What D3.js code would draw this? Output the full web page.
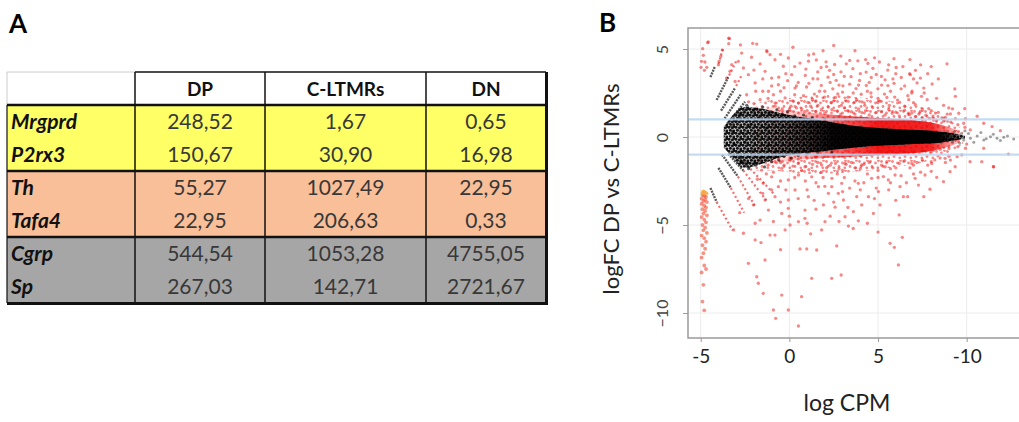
<!DOCTYPE html>
<html>
<head>
<meta charset="utf-8">
<script src="https://cdn.jsdelivr.net/npm/d3@7/dist/d3.min.js"></script>
<style>
body{margin:0;background:#fff;}
svg{display:block;}
</style>
</head>
<body>
<div id="canvas"></div>
<script>
// ---- panel A : table values ----
var columns = ['DP','C-LTMRs','DN'];
var genes = ['Mrgprd','P2rx3','Th','Tafa4','Cgrp','Sp'];
var valDP = ['248,52','150,67','55,27','22,95','544,54','267,03'];
var valCL = ['1,67','30,90','1027,49','206,63','1053,28','142,71'];
var valDN = ['0,65','16,98','22,95','0,33','4755,05','2721,67'];
var groupColors = ['#ffff66','#f8bf98','#a6a6a6'];

// ---- panel B : MA plot values (logCPM, logFC) ----
var xTicks = [-5,0,5,10];
var xTickLabels = ['-5','0','5','-10'];
var yTicks = [5,0,-5,-10];
var cutoffs = [1,-1];

// dense black core, envelope
var coreX   = [-3.7,-3.3,-2.6,-1.5,-0.5,0.5,1.5,2.5,3.5,4.5,5.5,6.5,7.5,8.5,9.2,9.9];
var coreTop = [0.6,1.1,1.7,1.6,1.35,1.15,1.0,0.82,0.66,0.55,0.48,0.42,0.38,0.3,0.22,0.08];
var coreBot = [-0.6,-1.05,-1.75,-1.5,-1.15,-0.95,-0.85,-0.72,-0.62,-0.52,-0.47,-0.42,-0.38,-0.32,-0.22,-0.08];
var coreShadeAt = [-3.7,-0.5,2.5,8.3,9.3,9.9];
var coreShade = [0.15,0.45,0.95,1,0.7,0.1];

// dense red fringe round the core (inner, nearly solid)
var bandX   = [-1.2,0,1,2,3,4,5,6,7,8,8.8,9.6];
var bandTop = [1.7,1.5,1.4,1.3,1.22,1.15,1.08,1.02,0.95,0.82,0.62,0.32];
var bandBot = [-1.6,-1.35,-1.25,-1.2,-1.15,-1.1,-1.02,-0.98,-0.92,-0.8,-0.6,-0.32];
var bandShadeAt = [-1.2,1,3,5,8,9.6];
var bandShade = [0.1,0.3,0.65,0.9,0.85,0.2];

// wider, speckled part of the red cloud
var cloudX   = [-2.0,-1,0,1,2,3,4,5,6,7,8,9,9.8];
var cloudTop = [1.9,2.1,2.2,2.35,2.4,2.35,2.25,2.15,2.0,1.8,1.5,1.0,0.4];
var cloudBot = [-1.9,-1.9,-2.0,-2.1,-2.1,-2.05,-1.95,-1.85,-1.7,-1.55,-1.3,-0.9,-0.4];

// low count streaks [x0,y0,x1,y1]
var blackStreaks = [
  [-4.45,3.4,-4.2,4.0],[-4.1,2.1,-3.45,3.4],[-3.85,1.5,-3.05,2.8],[-3.65,1.05,-2.75,2.4],
  [-3.5,0.75,-2.5,2.0],[-3.3,0.55,-2.3,1.75],
  [-4.45,-2.9,-4.1,-3.7],[-4.0,-1.75,-3.3,-2.9],[-3.8,-1.0,-2.9,-2.25],[-3.45,-0.95,-2.6,-1.9],
  [-3.0,-0.95,-2.2,-1.8]
];
var redStreaks = [
  [-4.0,4.15,-3.75,5.0],[-3.4,3.5,-3.0,4.3],[-3.0,2.9,-2.7,3.5],
  [-4.1,-3.7,-3.2,-5.3],[-3.3,-2.9,-2.55,-4.3],[-2.9,-2.25,-1.95,-3.9],[-2.6,-1.9,-1.3,-3.6],
  [-2.2,-1.8,-0.9,-3.2]
];

var redPts = [
  [-4.57,5.4],[-4.89,5.02],[-4.85,4.64],[-4.95,4.3],[-4.76,4.26],[-4.98,3.96],[-4.66,3.96],[-4.79,3.79],[-4.61,5.36],
  [-3.38,5.59],[-3.42,5.3],[-3.78,4.94],[-3.87,4.58],[-3.96,4.3],[-4.0,4.1],[-2.69,4.77],[-1.84,5.28],[-1.28,4.9],
  [-1.09,4.68],[-2.13,4.53],[-2.88,4.3],[-3.25,4.11],[-2.59,3.92],[-1.65,4.15],[-0.81,4.39],[-0.06,4.49],[-0.34,4.02],
  [-3.35,3.73],[-3.54,3.35],[-3.06,3.16],[-2.31,3.54],[-1.37,3.73],[-1.0,3.35],[-1.93,3.07],[-0.62,2.97],[0.13,3.54],
  [0.32,2.78],[-1.18,2.6],[-2.41,2.4],[-0.24,2.22],[0.51,1.93],[-0.81,1.93],[-1.65,2.12],[-2.76,5.23],[-2.07,5.32],
  [-1.26,4.85],[1.09,4.66],[-3.42,5.61],
  [1.37,4.72],[1.08,4.31],[1.52,4.38],[2.07,4.27],[2.55,4.12],[3.21,4.16],[3.86,4.33],[4.43,4.18],[5.08,4.26],
  [0.93,3.86],[1.79,3.95],[2.27,3.79],[2.91,3.7],[3.58,3.88],[4.33,3.69],[4.71,3.9],[5.55,3.8],[6.02,3.95],[6.78,3.6],
  [1.33,3.31],[2.18,3.4],[2.64,3.22],[3.48,3.43],[3.96,3.21],[4.62,3.38],[5.19,3.44],[5.84,3.3],[6.31,3.38],
  [0.97,2.84],[1.8,2.93],[2.45,2.74],[3.02,2.91],[3.76,2.75],[4.34,2.93],[4.99,2.74],[5.56,2.92],[6.3,2.74],
  [1.41,2.44],[1.98,2.27],[2.73,2.45],[3.31,2.26],[4.05,2.43],[4.62,2.28],[5.36,2.44],[5.94,2.27],[6.68,2.35],
  [1.04,1.97],[1.61,1.8],[2.35,1.96],[2.93,1.8],[3.67,1.97],[4.25,1.8],[4.99,1.96],[5.64,1.8],[6.22,1.97],
  [8.89,4.16],[7.11,3.79],[6.82,3.54],[7.39,3.35],[8.05,3.01],[9.33,2.73],[9.36,2.31],[7.2,3.07],[7.58,2.78],
  [6.92,2.6],[7.45,2.31],[7.77,2.12],[6.73,2.12],[7.11,1.84],[7.86,1.61],[8.99,1.65],[9.89,1.61],[7.39,1.46],
  [8.24,1.36],[9.08,1.31],[6.77,1.27],[8.8,1.12],[9.36,1.04],[9.93,1.04],[10.59,1.18],[8.14,1.04],[9.55,1.35],
  [9.83,0.78],[10.96,0.78],[11.43,0.59],[11.9,0.36],
  [0.7,1.6],[1.2,1.75],[1.8,1.55],[2.2,1.7],[2.7,1.48],[3.1,1.66],[3.5,1.44],[3.9,1.6],[4.3,1.5],[4.7,1.67],
  [5.2,1.43],[5.6,1.56],[6.0,1.41],[6.5,1.52],[6.9,1.36],[7.3,1.3],[7.7,1.24],[8.1,1.19],[8.6,1.08],[1.3,2.15],
  [2.5,2.05],[3.8,2.12],[5.0,2.2],[5.7,2.6],[6.9,2.5],[3.0,2.55],[4.4,2.6],[1.7,2.6],[0.3,2.4],[-0.5,2.6],
  [-1.2,2.2],[-2.0,1.9],[0.1,1.75],[-0.4,1.6],[2.9,4.6],[3.7,4.9],[4.3,4.4],[5.6,4.1],[6.4,4.0],[0.5,3.1],
  [-0.2,3.6],[0.6,4.2],
  [0.2,2.05],[0.8,2.35],[1.5,2.05],[2.0,2.6],[2.6,2.25],[3.2,2.05],[3.6,2.5],[4.1,2.0],[4.6,2.5],[5.1,2.05],
  [5.5,2.25],[6.1,2.1],[6.5,1.75],[7.0,1.95],[7.5,1.6],[8.0,1.5],[8.4,1.4],[8.9,1.3],[0.4,2.9],[1.1,3.05],
  [1.6,3.3],[2.3,3.1],[2.8,2.95],[3.4,3.0],[3.9,2.95],[4.5,3.1],[5.2,2.95],[5.9,3.05],[6.5,2.9],[7.6,2.5],
  [8.3,2.2],[8.7,1.8],[9.2,1.6],[-0.9,2.4],[-1.5,2.6],[-0.3,2.8],[-1.9,2.6],[-2.3,2.0],[-1.0,2.9],[-0.1,3.2],
  [0.9,3.5],[1.6,3.7],[2.5,3.55],[3.1,3.45],[4.0,3.6],[4.9,3.55],[5.4,3.25],[6.0,3.6],[7.0,3.3],[7.8,3.6],
  [8.4,3.3],[2.1,4.0],[3.4,4.35],[4.8,4.5],[5.9,4.45],[0.3,4.0],[-0.6,3.4],[-1.5,3.3],[-2.0,3.8],[-0.5,4.7],
  [1.9,4.9],[2.5,5.2],[0.2,5.1],[7.4,4.1],[6.8,4.4],[8.0,4.0],
  [-0.8,1.75],[0.0,1.55],[0.4,1.65],[1.0,1.5],[1.5,1.45],[2.0,1.35],[2.4,1.55],[2.9,1.3],[3.3,1.5],[3.7,1.3],
  [4.1,1.38],[4.5,1.25],[4.9,1.4],[5.4,1.25],[5.8,1.35],[6.2,1.2],[6.7,1.3],[7.1,1.15],[7.5,1.1],[7.9,1.05],
  [8.3,0.95],[8.7,0.9],[9.1,0.85],[9.5,0.7],[9.9,0.55],[10.2,0.4],
  [-1.93,-5.85],[-1.37,-6.99],[-1.84,-7.94],[-1.75,-8.31],[-1.47,-8.88],[-0.9,-9.83],[-0.77,-10.3],[-0.43,-8.98],
  [-0.06,-9.83],[0.51,-10.74],[0.69,-9.07],[1.26,-8.03],[0.6,-6.36],[0.98,-6.36],[1.54,-6.42],[-0.24,-5.28],
  [-1.09,-5.57],[-0.81,-5.57],[0.04,-5.0],[0.51,-4.81],[0.88,-4.62],[1.82,-5.28],[2.01,-4.81],[-0.43,-4.34],
  [-1.18,-4.15],[-1.65,-4.72],[-2.03,-3.86],[-1.37,-3.58],[-0.81,-3.39],[-0.06,-3.58],[0.32,-3.01],[1.07,-3.39],
  [1.64,-2.82],[1.92,-3.86],[0.88,-4.15],[-0.06,-4.05],[-0.62,-2.82],[-1.47,-2.63],[-1.0,-2.26],[-0.06,-2.44],
  [0.51,-2.16],[1.26,-2.26],[-1.56,-1.88],[-0.43,-1.78],[0.88,-1.69],[1.82,-1.59],[1.45,-1.12],[0.13,-1.21],[-0.81,-1.4],
  [2.67,-6.19],[2.39,-8.03],[2.92,-7.84],[5.68,-6.04],[5.92,-6.27],[6.37,-5.7],[6.15,-7.27],[3.33,-5.06],[3.89,-4.76],
  [3.14,-4.53],[4.74,-4.34],[6.19,-4.43],[2.58,-3.99],[3.61,-4.24],[5.11,-3.86],[4.08,-3.86],[3.05,-3.58],[3.8,-3.39],
  [4.46,-3.39],[6.43,-3.39],[6.67,-3.39],[5.02,-3.1],[2.76,-3.2],[6.24,-2.82],[7.28,-2.73],[7.93,-2.97],[8.31,-2.29],
  [9.35,-1.69],[9.06,-1.97],[11.5,-1.69],[10.85,-1.4],[10.19,-1.4],[8.69,-2.54],[7.65,-2.16],[7.09,-2.35],[5.58,-2.44],
  [5.96,-2.16],[4.64,-2.35],[3.89,-2.63],[2.95,-2.63],[2.39,-2.82],[8.03,-1.5],[6.9,-1.5],[5.4,-1.69],[4.08,-1.59],
  [3.14,-1.5],[8.78,-1.21],[9.72,-1.02],[12.35,-0.97],[11.52,-1.69],[10.96,-0.64],[9.93,-0.64],[9.46,-1.12],[9.08,-1.31],
  [7.58,-3.39],
  [0.5,-1.5],[1.1,-1.85],[1.6,-1.45],[2.1,-1.75],[2.6,-1.5],[3.0,-1.9],[3.5,-1.45],[4.0,-1.8],[4.5,-1.45],[5.0,-1.9],
  [5.5,-1.4],[6.0,-1.75],[6.5,-1.35],[7.0,-1.6],[7.5,-1.3],[8.0,-1.4],[8.5,-1.2],[9.0,-1.1],[0.9,-2.5],[1.9,-2.3],
  [2.7,-2.1],[3.4,-2.9],[4.2,-2.6],[4.9,-2.9],[5.3,-2.25],[6.6,-2.6],[7.0,-2.1],[-0.9,-2.0],[-1.8,-2.4],[-0.2,-3.0],
  [2.2,-3.2],[4.4,-4.9],[5.0,-5.4],[3.6,-5.2],[-2.59,-5.47],[-2.31,-7.18],[-1.93,-4.9],[-3.14,-5.28],[-2.8,-4.3],
  [-2.3,-3.5],[-1.0,-3.0],[1.5,-4.1],[2.3,-4.5],[1.2,-5.5],[-0.5,-6.4],[-1.6,-6.0],
  [0.2,-1.65],[0.7,-1.9],[1.3,-1.55],[1.8,-2.0],[2.3,-1.6],[2.8,-1.8],[3.2,-1.55],[3.7,-1.75],[4.2,-1.55],[4.7,-1.75],
  [5.2,-1.6],[5.7,-1.8],[6.2,-1.5],[6.8,-1.75],[7.2,-1.45],[7.8,-1.6],[8.2,-1.3],[8.8,-1.45],[0.3,-2.3],[1.5,-2.6],
  [2.4,-2.35],[3.1,-2.3],[3.7,-2.5],[4.4,-2.1],[5.0,-2.3],[5.7,-2.6],[6.3,-2.2],[7.4,-2.0],[8.0,-1.95],[-0.5,-2.5],
  [-1.3,-2.1],[-0.3,-1.6],[-1.2,-1.6],[1.0,-3.0],[2.0,-2.8],[3.0,-3.1],[4.0,-3.0],[4.8,-3.5],[5.6,-3.0],[6.0,-3.6],
  [2.5,-3.7],[1.4,-3.6],[0.5,-3.5],[-0.5,-3.7],[-1.5,-3.2],[3.3,-4.0],[0.0,-4.5],[1.0,-4.9],[2.8,-4.8],[-0.9,-4.8],
  [-0.5,-1.45],[0.0,-1.3],[0.5,-1.25],[1.0,-1.2],[1.5,-1.15],[2.0,-1.1],[2.5,-1.05],[3.0,-1.1],[3.5,-1.0],[4.0,-1.05],
  [4.5,-0.95],[5.0,-1.0],[5.5,-0.9],[6.0,-0.95],[6.5,-0.85],[7.0,-0.9],[7.5,-0.8],[8.0,-0.85],[8.5,-0.7],[9.0,-0.65],
  [9.5,-0.55],[10.0,-0.4]
];

// genes with no counts in one group, column at the left edge
var lowPts = [
  [-4.9,-3.3],[-4.8,-3.35],[-4.7,-3.4],[-4.95,-3.5],[-4.75,-3.55],[-4.85,-3.65],[-4.65,-3.7],[-4.95,-3.8],
  [-4.8,-3.9],[-4.7,-4.0],[-4.9,-4.1],[-4.75,-4.2],[-4.85,-4.35],[-4.65,-4.45],[-4.95,-4.55],[-4.8,-4.7],
  [-4.7,-4.85],[-4.9,-5.0],[-4.75,-5.15],[-4.85,-5.3],[-4.65,-5.45],[-4.95,-5.6],[-4.8,-5.75],[-4.7,-5.95],
  [-4.9,-6.15],[-4.75,-6.35],[-4.85,-6.6],[-4.95,-6.85],[-4.8,-7.3],[-4.7,-7.5],[-4.95,-7.7],[-4.85,-8.4],
  [-4.9,-9.35],[-4.8,-9.85]
];
var lowTopPts = [[-4.9,-3.2],[-4.78,-3.15],[-4.85,-3.1],[-4.68,-3.2]];

var blackPts = [
  [-3.2,0.3],[-3.1,-0.4],[-3.0,0.9],[-2.9,-0.9],[-2.8,1.3],[-2.7,-1.4],[-2.6,0.2],[-2.5,-0.3],[-2.4,1.8],
  [-2.3,-1.8],[-2.2,0.7],[-2.1,-0.8],[-2.0,1.5],[-1.9,-1.6],[-1.8,0.1],[-1.7,1.1],[-1.6,-1.2],[-1.5,1.7],
  [-1.4,-1.7],[-1.3,0.5],[-1.2,-0.5],[-1.1,1.4],[-1.0,-1.4],[-0.9,0.9],[-0.8,-0.9],[-0.7,1.55],[-0.6,-1.3],
  [-0.4,1.3],[-0.3,-1.1],[-0.1,1.45],[0.1,-1.2],[0.3,1.2],[0.5,-1.05],[0.8,1.25],[1.0,-0.95],[1.3,1.1],
  [1.6,-0.9],[2.0,1.0],[2.4,-0.85]
];
var tailPts = [
  [9.08,0.02],[9.46,0.11],[9.83,-0.17],[10.21,-0.07],[10.59,0.06],[10.96,-0.17],[11.34,0.02],[11.71,-0.07],
  [12.09,-0.02],[12.65,-0.11],[9.3,0.3],[9.6,-0.35],[9.9,0.35],[10.1,0.2],[10.4,-0.3],[10.8,0.25],[11.1,-0.1],
  [11.5,0.15],[11.9,-0.2],[12.3,0.05],[9.2,-0.25],[9.7,0.2]
];

var W = 1019, H = 422;
var svg = d3.select('#canvas').append('svg')
    .attr('width', W).attr('height', H)
    .style('font-family', 'Lato, "Open Sans", sans-serif');
var defs = svg.append('defs');

// panel letters
svg.append('text').attr('x', 9).attr('y', 33).text('A')
    .style('font-size', '26px').style('font-weight', 'bold');
svg.append('text').attr('x', 599).attr('y', 32).text('B')
    .style('font-size', '26px').style('font-weight', 'bold');

// ================= TABLE =================
var colEdges = [7,135,265,426,546];
var headTop = 72, headBot = 105, rowH = 33;
var rowVals = [valDP, valCL, valDN];

var tbl = svg.append('g');

groupColors.forEach(function(c, g){
  tbl.append('rect')
    .attr('x', colEdges[0]).attr('y', headBot + g*2*rowH)
    .attr('width', colEdges[4]-colEdges[0]).attr('height', 2*rowH)
    .attr('fill', c);
});

columns.forEach(function(c, i){
  tbl.append('text')
    .attr('x', (colEdges[i+1]+colEdges[i+2])/2).attr('y', headBot - 9)
    .attr('text-anchor', 'middle').text(c)
    .style('font-size', '19px').style('font-weight', 'bold').attr('fill', '#111');
});

genes.forEach(function(g, r){
  var yb = headBot + r*rowH + rowH/2 + 7.5;
  tbl.append('text').attr('x', 11).attr('y', yb).text(g)
    .style('font-size', '21px').style('font-weight', 'bold').style('font-style', 'italic')
    .attr('fill', '#111');
  rowVals.forEach(function(vals, i){
    tbl.append('text')
      .attr('x', (colEdges[i+1]+colEdges[i+2])/2).attr('y', yb)
      .attr('text-anchor', 'middle').text(vals[r])
      .style('font-size', '21px').attr('fill', '#383838');
  });
});

var tBot = headBot + genes.length*rowH;
tbl.append('line').attr('x1', colEdges[0]).attr('x2', colEdges[1]).attr('y1', headTop).attr('y2', headTop)
  .attr('stroke', '#ccc').attr('stroke-width', 1);
tbl.append('line').attr('x1', colEdges[1]).attr('x2', colEdges[4]).attr('y1', headTop).attr('y2', headTop)
  .attr('stroke', '#111').attr('stroke-width', 1.5);
tbl.append('line').attr('x1', colEdges[0]).attr('x2', colEdges[0]).attr('y1', headTop).attr('y2', headBot)
  .attr('stroke', '#ccc').attr('stroke-width', 1);
tbl.append('line').attr('x1', colEdges[0]).attr('x2', colEdges[0]).attr('y1', headBot).attr('y2', tBot)
  .attr('stroke', '#111').attr('stroke-width', 1.2);
[1,2,3].forEach(function(i){
  tbl.append('line').attr('x1', colEdges[i]).attr('x2', colEdges[i]).attr('y1', headTop).attr('y2', tBot)
    .attr('stroke', '#111').attr('stroke-width', 1.5);
});
[0,1,2].forEach(function(g){
  var yy = headBot + g*2*rowH;
  tbl.append('line').attr('x1', colEdges[0]).attr('x2', colEdges[4]).attr('y1', yy).attr('y2', yy)
    .attr('stroke', '#111').attr('stroke-width', 2.5);
});
tbl.append('line').attr('x1', colEdges[4]+0.5).attr('x2', colEdges[4]+0.5).attr('y1', headTop).attr('y2', tBot+1.5)
  .attr('stroke', '#111').attr('stroke-width', 3);
tbl.append('line').attr('x1', colEdges[0]).attr('x2', colEdges[4]+2).attr('y1', tBot+0.5).attr('y2', tBot+0.5)
  .attr('stroke', '#111').attr('stroke-width', 3);

// ================= MA PLOT =================
var pL = 688, pT = 28, pB = 338, pR = W + 5;
var x = d3.scaleLinear().domain([-5,10]).range([700.7,966.7]);
var y = d3.scaleLinear().domain([5,-10]).range([49,313]);

defs.append('clipPath').attr('id', 'panel')
  .append('rect').attr('x', pL).attr('y', pT).attr('width', pR-pL).attr('height', pB-pT);

// speckle textures for the overplotted areas
var rs = defs.append('pattern').attr('id', 'redSpeckle').attr('patternUnits', 'userSpaceOnUse')
  .attr('width', 11).attr('height', 10);
[[1.5,1.5],[6.5,3],[3,6.5],[8.8,7.8],[9.5,0.5]].forEach(function(p){
  rs.append('circle').attr('cx', p[0]).attr('cy', p[1]).attr('r', 1.4)
    .attr('fill', '#ee1111').attr('fill-opacity', 0.5);
});
var ks = defs.append('pattern').attr('id', 'blackSpeckle').attr('patternUnits', 'userSpaceOnUse')
  .attr('width', 7).attr('height', 6);
[[1,1.2],[4.4,1.8],[2.4,4.2],[5.8,4.9],[6.5,0.6]].forEach(function(p){
  ks.append('circle').attr('cx', p[0]).attr('cy', p[1]).attr('r', 1.5)
    .attr('fill', '#000').attr('fill-opacity', 0.9);
});

function gradient(id, at, op, color){
  var g = defs.append('linearGradient').attr('id', id)
    .attr('gradientUnits', 'userSpaceOnUse')
    .attr('x1', x(at[0])).attr('x2', x(at[at.length-1])).attr('y1', 0).attr('y2', 0);
  at.forEach(function(v, i){
    g.append('stop')
      .attr('offset', (x(v)-x(at[0]))/(x(at[at.length-1])-x(at[0])))
      .attr('stop-color', color).attr('stop-opacity', op[i]);
  });
}
gradient('coreGrad', coreShadeAt, coreShade, '#000');
gradient('bandGrad', bandShadeAt, bandShade, '#ee0000');

var plot = svg.append('g').attr('clip-path', 'url(#panel)');

// grid
plot.selectAll('.gx').data(xTicks).enter().append('line')
  .attr('x1', function(d){ return x(d); }).attr('x2', function(d){ return x(d); })
  .attr('y1', pT).attr('y2', pB).attr('stroke', '#ececec').attr('stroke-width', 1);
plot.selectAll('.gy').data(yTicks).enter().append('line')
  .attr('y1', function(d){ return y(d); }).attr('y2', function(d){ return y(d); })
  .attr('x1', pL).attr('x2', pR).attr('stroke', '#ececec').attr('stroke-width', 1);

function envelope(xs, top, bot){
  return d3.area()
    .x(function(d, i){ return x(xs[i]); })
    .y0(function(d, i){ return y(bot[i]); })
    .y1(function(d, i){ return y(top[i]); })
    .curve(d3.curveMonotoneX)(xs);
}

// speckled red cloud
plot.append('path').attr('d', envelope(cloudX, cloudTop, cloudBot)).attr('fill', 'url(#redSpeckle)');

// red sparse points
plot.selectAll('.rp').data(redPts).enter().append('circle')
  .attr('cx', function(d){ return x(d[0]); }).attr('cy', function(d){ return y(d[1]); })
  .attr('r', 1.65).attr('fill', '#ee1111').attr('fill-opacity', 0.5);

// red fringe band
plot.append('path').attr('d', envelope(bandX, bandTop, bandBot)).attr('fill', 'url(#bandGrad)');

// core: white base, speckle, then solid black where fully overplotted
plot.append('path').attr('d', envelope(coreX, coreTop, coreBot)).attr('fill', '#fff').attr('fill-opacity', 0.5);
plot.append('path').attr('d', envelope(coreX, coreTop, coreBot)).attr('fill', 'url(#blackSpeckle)');
plot.append('path').attr('d', envelope(coreX, coreTop, coreBot)).attr('fill', 'url(#coreGrad)');

// streaks
plot.selectAll('.rs').data(redStreaks).enter().append('line')
  .attr('x1', function(d){ return x(d[0]); }).attr('y1', function(d){ return y(d[1]); })
  .attr('x2', function(d){ return x(d[2]); }).attr('y2', function(d){ return y(d[3]); })
  .attr('stroke', '#e81010').attr('stroke-width', 2.2).attr('stroke-opacity', 0.6)
  .attr('stroke-dasharray', '2 2.5');
plot.selectAll('.bs').data(blackStreaks).enter().append('line')
  .attr('x1', function(d){ return x(d[0]); }).attr('y1', function(d){ return y(d[1]); })
  .attr('x2', function(d){ return x(d[2]); }).attr('y2', function(d){ return y(d[3]); })
  .attr('stroke', '#222').attr('stroke-width', 2.4).attr('stroke-opacity', 0.75)
  .attr('stroke-dasharray', '2 1');

// black points
plot.selectAll('.bp').data(blackPts).enter().append('circle')
  .attr('cx', function(d){ return x(d[0]); }).attr('cy', function(d){ return y(d[1]); })
  .attr('r', 1.6).attr('fill', '#000').attr('fill-opacity', 0.6);
plot.selectAll('.tp').data(tailPts).enter().append('circle')
  .attr('cx', function(d){ return x(d[0]); }).attr('cy', function(d){ return y(d[1]); })
  .attr('r', 1.5).attr('fill', '#444').attr('fill-opacity', 0.5);

// left column
plot.selectAll('.lp').data(lowPts).enter().append('circle')
  .attr('cx', function(d){ return x(d[0]); }).attr('cy', function(d){ return y(d[1]); })
  .attr('r', 1.9).attr('fill', '#f03a20').attr('fill-opacity', 0.55);
plot.selectAll('.lt').data(lowTopPts).enter().append('circle')
  .attr('cx', function(d){ return x(d[0]); }).attr('cy', function(d){ return y(d[1]); })
  .attr('r', 2).attr('fill', '#f6a845').attr('fill-opacity', 0.85);

// cut-off lines
plot.selectAll('.cut').data(cutoffs).enter().append('line')
  .attr('x1', pL).attr('x2', pR)
  .attr('y1', function(d){ return y(d); }).attr('y2', function(d){ return y(d); })
  .attr('stroke', '#b9d6f2').attr('stroke-width', 2.2).attr('stroke-opacity', 0.85);

// frame
svg.append('path')
  .attr('d', 'M' + pR + ',' + pT + 'H' + pL + 'V' + pB + 'H' + pR)
  .attr('fill', 'none').attr('stroke', '#9a9a9a').attr('stroke-width', 1.5);

// axes
var axisX = d3.axisBottom(x).tickValues(xTicks)
  .tickFormat(function(d, i){ return xTickLabels[i]; })
  .tickSize(4).tickSizeOuter(0);
var gx = svg.append('g').attr('transform', 'translate(0,' + pB + ')').call(axisX);
gx.select('.domain').remove();
gx.selectAll('line').attr('stroke', '#9a9a9a');
gx.selectAll('text').attr('y', 12).style('font-size', '19px').attr('fill', '#222')
  .style('font-family', 'Lato, "Open Sans", sans-serif');

var axisY = d3.axisLeft(y).tickValues(yTicks).tickSize(5).tickSizeOuter(0);
var gy = svg.append('g').attr('transform', 'translate(' + pL + ',0)').call(axisY);
gy.select('.domain').remove();
gy.selectAll('line').attr('stroke', '#9a9a9a');
gy.selectAll('text')
  .attr('transform', 'rotate(-90)')
  .attr('x', 0).attr('y', -20).attr('dy', 0)
  .attr('text-anchor', 'middle')
  .style('font-size', '16px').attr('fill', '#444')
  .style('font-family', 'Lato, "Open Sans", sans-serif');

// axis titles
svg.append('text').attr('x', 847).attr('y', 411).attr('text-anchor', 'middle')
  .text('log CPM').style('font-size', '23px').attr('fill', '#222');
svg.append('text')
  .attr('transform', 'translate(619,189) rotate(-90)')
  .attr('text-anchor', 'middle')
  .text('logFC DP vs C-LTMRs').style('font-size', '22px').attr('fill', '#222');
</script>
</body>
</html>
